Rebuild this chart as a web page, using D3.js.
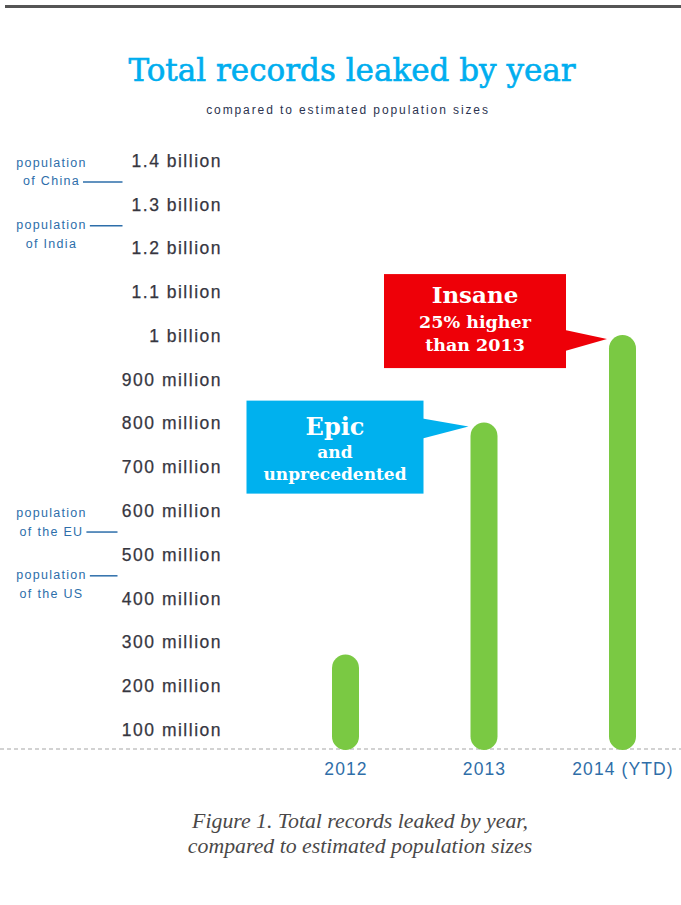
<!DOCTYPE html>
<html lang="en">
<head>
  <meta charset="UTF-8">
  <title>Total records leaked by year</title>
  <script src="https://d3js.org/d3.v7.min.js"></script>
  <style>
    body { margin: 0; background: #fff; }
    svg { display: block; }
  </style>
</head>
<body>
  <div class="chart"></div>
  <script>
    // values in millions of records
    const years = ['2012', '2013', '2014 (YTD)'];
    const leaked = [270, 800, 1000];
    const tickValues = [100, 200, 300, 400, 500, 600, 700, 800, 900, 1000, 1100, 1200, 1300, 1400];
    const popNames = ['of China', 'of India', 'of the EU', 'of the US'];
    const popValues = [1350, 1250, 550, 450];
    // which row of the label carries the leader line (0 = "population", 1 = "of ...")
    const popLineRow = [1, 0, 1, 0];
    const calloutYears = ['2013', '2014 (YTD)'];
    const calloutLines = [['Epic', 'and', 'unprecedented'], ['Insane', '25% higher', 'than 2013']];

    const width = 681, height = 905;
    const svg = d3.select('.chart').append('svg').attr('width', width).attr('height', height);

    const y = d3.scaleLinear().domain([100, 1400]).range([729, 160]);
    const x = d3.scalePoint().domain(years).range([345.5, 622.5]);
    const baseY = 750;
    const barW = 27;

    // top rule
    svg.append('line').attr('x1', 5).attr('x2', width).attr('y1', 6.5).attr('y2', 6.5)
      .attr('stroke', '#555').attr('stroke-width', 3);

    svg.append('text').attr('x', 352).attr('y', 81).attr('text-anchor', 'middle')
      .style('font-family', 'DejaVu Serif').style('font-size', '31px').style('fill', '#00aeef')
      .style('stroke', '#00aeef').style('stroke-width', '0.6px')
      .text('Total records leaked by year');
    svg.append('text').attr('x', 348).attr('y', 114).attr('text-anchor', 'middle')
      .style('font-family', 'Liberation Sans, Arial').style('font-size', '12px')
      .style('letter-spacing', '1.9px').style('fill', '#2b3350')
      .text('compared to estimated population sizes');

    // y axis labels
    const yAxis = d3.axisLeft(y).tickValues(tickValues).tickSize(0).tickPadding(0)
      .tickFormat(v => v >= 1000 ? (v / 1000) + ' billion' : v + ' million');
    const gy = svg.append('g').attr('transform', 'translate(222,0)').call(yAxis);
    gy.select('.domain').remove();
    gy.selectAll('text')
      .attr('dy', '0.36em')
      .style('font-family', 'Liberation Sans, Arial').style('font-size', '17.5px')
      .style('letter-spacing', '1.5px').style('fill', '#36363f')
      .style('stroke', '#36363f').style('stroke-width', '0.25px');

    // baseline
    svg.append('line').attr('x1', 0).attr('x2', width).attr('y1', baseY - 1).attr('y2', baseY - 1)
      .attr('stroke', '#c4c4c4').attr('stroke-width', 1.5).attr('stroke-dasharray', '4,3');

    // bars
    svg.selectAll('.bar').data(years).join('rect').attr('class', 'bar')
      .attr('x', d => x(d) - barW / 2)
      .attr('y', (d, i) => y(leaked[i]))
      .attr('width', barW)
      .attr('height', (d, i) => baseY - y(leaked[i]))
      .attr('rx', barW / 2).attr('ry', barW / 2)
      .attr('fill', '#7ac943');

    svg.selectAll('.year').data(years).join('text').attr('class', 'year')
      .attr('x', d => x(d) + 0.5).attr('y', 775).attr('text-anchor', 'middle')
      .style('font-family', 'Liberation Sans, Arial').style('font-size', '17.5px')
      .style('letter-spacing', '1.1px').style('fill', '#2f6ea8')
      .text(d => d);

    // population markers
    const popG = svg.append('g');
    popNames.forEach((name, i) => {
      const ly = y(popValues[i]);
      const rows = ['population', name];
      const base0 = popLineRow[i] === 1 ? ly - 15 : ly + 3.5;
      const g = popG.append('g');
      const texts = rows.map((r, k) => g.append('text')
        .attr('x', 51.5).attr('y', base0 + k * 18.5).attr('text-anchor', 'middle')
        .style('font-family', 'Liberation Sans, Arial').style('font-size', '12.5px')
        .style('letter-spacing', '1.3px').style('fill', '#2d6eaa')
        .text(r));
      const bb = texts[popLineRow[i]].node().getBBox();
      g.append('line')
        .attr('x1', bb.x + bb.width + 3).attr('x2', popValues[i] >= 1000 ? 122.5 : 117.5)
        .attr('y1', ly).attr('y2', ly)
        .attr('stroke', '#2d6eaa').attr('stroke-width', 1.5);
    });

    // callouts
    const boxes = [
      { fill: '#00b1ee', dx: -45, dy: -26, w: 177, h: 93, py: [-8, 12], sizes: [24, 17, 17], base: [34, 57, 79] },
      { fill: '#ee0008', dx: -41, dy: -65, w: 182, h: 94, py: [-9, 12], sizes: [23, 17.5, 17.5], base: [29, 54, 77] }
    ];
    calloutYears.forEach((yr, i) => {
      const b = boxes[i];
      const vi = years.indexOf(yr);
      const tipX = x(yr) - barW / 2 - 2;
      const tipY = y(leaked[vi]) + 4;
      const right = tipX + b.dx, top = tipY + b.dy, left = right - b.w;
      const g = svg.append('g');
      g.append('rect').attr('x', left).attr('y', top).attr('width', b.w).attr('height', b.h).attr('fill', b.fill);
      g.append('path')
        .attr('d', `M${right - 1},${tipY + b.py[0]} L${tipX},${tipY} L${right - 1},${tipY + b.py[1]} Z`)
        .attr('fill', b.fill);
      calloutLines[i].forEach((t, k) => {
        g.append('text').attr('x', left + b.w / 2).attr('y', top + b.base[k]).attr('text-anchor', 'middle')
          .style('font-family', 'DejaVu Serif').style('font-weight', 'bold')
          .style('font-size', b.sizes[k] + 'px').style('fill', '#fff')
          .text(t);
      });
    });

    // caption
    const cap = ['Figure 1. Total records leaked by year,', 'compared to estimated population sizes'];
    svg.selectAll('.cap').data(cap).join('text').attr('class', 'cap')
      .attr('x', 360).attr('y', (d, i) => 828 + i * 25).attr('text-anchor', 'middle')
      .style('font-family', 'Liberation Serif, serif').style('font-style', 'italic')
      .style('font-size', '21.8px').style('fill', '#4a4848')
      .text(d => d);
  </script>
</body>
</html>
